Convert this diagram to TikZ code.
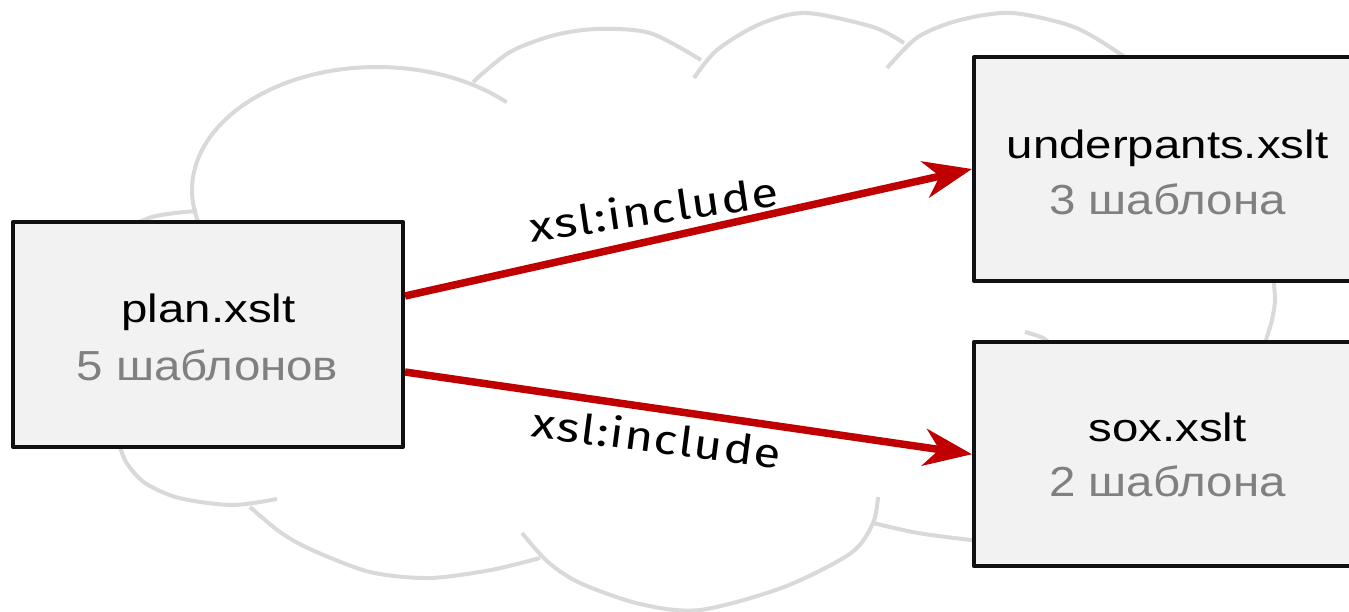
\documentclass[tikz,border=0pt]{standalone}
\usepackage{fontspec}
\setmainfont{Liberation Sans}
\newfontfamily\namefont{Liberation Sans}[FakeStretch=1.2]
\newfontfamily\countfont{Liberation Sans}[FakeStretch=1.13]
\newfontfamily\lblfont{Fira Sans}[FakeStretch=1.2,LetterSpace=3]
\usetikzlibrary{arrows.meta}
\definecolor{cloudgray}{HTML}{D9D9D9}
\definecolor{boxfill}{HTML}{F2F2F2}
\definecolor{boxline}{HTML}{111111}
\definecolor{arrowred}{HTML}{C00000}
\definecolor{countgray}{HTML}{808080}
\tikzset{
  cloudline/.style={draw=cloudgray, line width=4pt, line cap=butt},
  filebox/.style={draw=boxline, fill=boxfill, line width=4pt, line join=round,
    minimum width=390pt, minimum height=225pt, inner sep=0pt},
  nametext/.style={anchor=base, inner sep=0pt, font=\namefont\fontsize{39.5pt}{47pt}\selectfont, text=black},
  counttext/.style={anchor=base, inner sep=0pt, font=\countfont\fontsize{42pt}{50pt}\selectfont, text=countgray},
  incl/.style={draw=arrowred, line width=7.5pt, -{Stealth[length=48pt,width=37pt,inset=15pt]}},
  incllabel/.style={anchor=base, inner sep=0pt, font=\lblfont\fontsize{41pt}{49pt}\selectfont, text=black}
}
\begin{document}
\begin{tikzpicture}[x=1pt,y=-1pt]
\useasboundingbox (0,0) rectangle (1349,612);
\clip (0,0) rectangle (1349,612);
\fill[white] (0,0) rectangle (1349,612);
% cloud
\draw[cloudline] plot[domain=165.5:314.5, samples=60] ({377+185*cos(\x)},{190+123*sin(\x)});
\draw[cloudline] plot[smooth] coordinates {(130,226) (152,217) (175,213) (197,211)};
\draw[cloudline] plot[smooth] coordinates {(118,440) (126,462) (145,483) (179,498) (232,505) (277,499)};
\draw[cloudline] plot[smooth] coordinates {(250,507) (280,532) (312,550) (370,572) (429,578) (491,570) (540,558)};
\draw[cloudline] plot[smooth] coordinates {(522,533) (548,562) (580,583) (640,604) (700,610) (784,587) (851,553) (873,523) (878,497)};
\draw[cloudline] plot[smooth] coordinates {(873,523) (918,533) (971,540) (990,541)};
\draw[cloudline] plot[smooth] coordinates {(1025,332) (1043,338) (1055,348)};
\draw[cloudline] plot[smooth] coordinates {(1273,276) (1275,300) (1272,320) (1266,340) (1263,350)};
\draw[cloudline] plot[smooth] coordinates {(473,82) (510,52) (555,35) (598,29) (650,33) (701,60)};
\draw[cloudline] plot[smooth] coordinates {(694,78) (717,50) (760,24) (806,13) (873,27) (904,43)};
\draw[cloudline] plot[smooth] coordinates {(887,68) (918,37) (960,20) (1012,13) (1074,27) (1119,53) (1135,66)};
% boxes
\node[filebox] (plan) at (208,334.5) {};
\node[filebox, minimum width=388pt, minimum height=224pt] (under) at (1168,169) {};
\node[filebox, minimum width=388pt, minimum height=224pt] (sox) at (1168,454.25) {};
\node[nametext] (plantitle) at (208.5,322) {plan.xslt};
\node[counttext] (plancount) at (207.5,380) {5 шаблонов};
\node[nametext] (undertitle) at (1167.5,159) {underpants.xslt};
\node[counttext] (undercount) at (1167.5,215) {3 шаблона};
\node[nametext] (soxtitle) at (1167.5,441.7) {sox.xslt};
\node[counttext] (soxcount) at (1167.5,496.7) {2 шаблона};
% connectors
\draw[incl] ([yshift=38.5pt]plan.east) -- (under.west);
\draw[incl] ([yshift=-37.5pt]plan.east) -- (sox.west);
\node[incllabel, rotate=8.3] (lblup) at (656,224) {xsl:include};
\node[incllabel, rotate=-7.4] (lbldown) at (655,453) {xsl:include};
\end{tikzpicture}
\end{document}
